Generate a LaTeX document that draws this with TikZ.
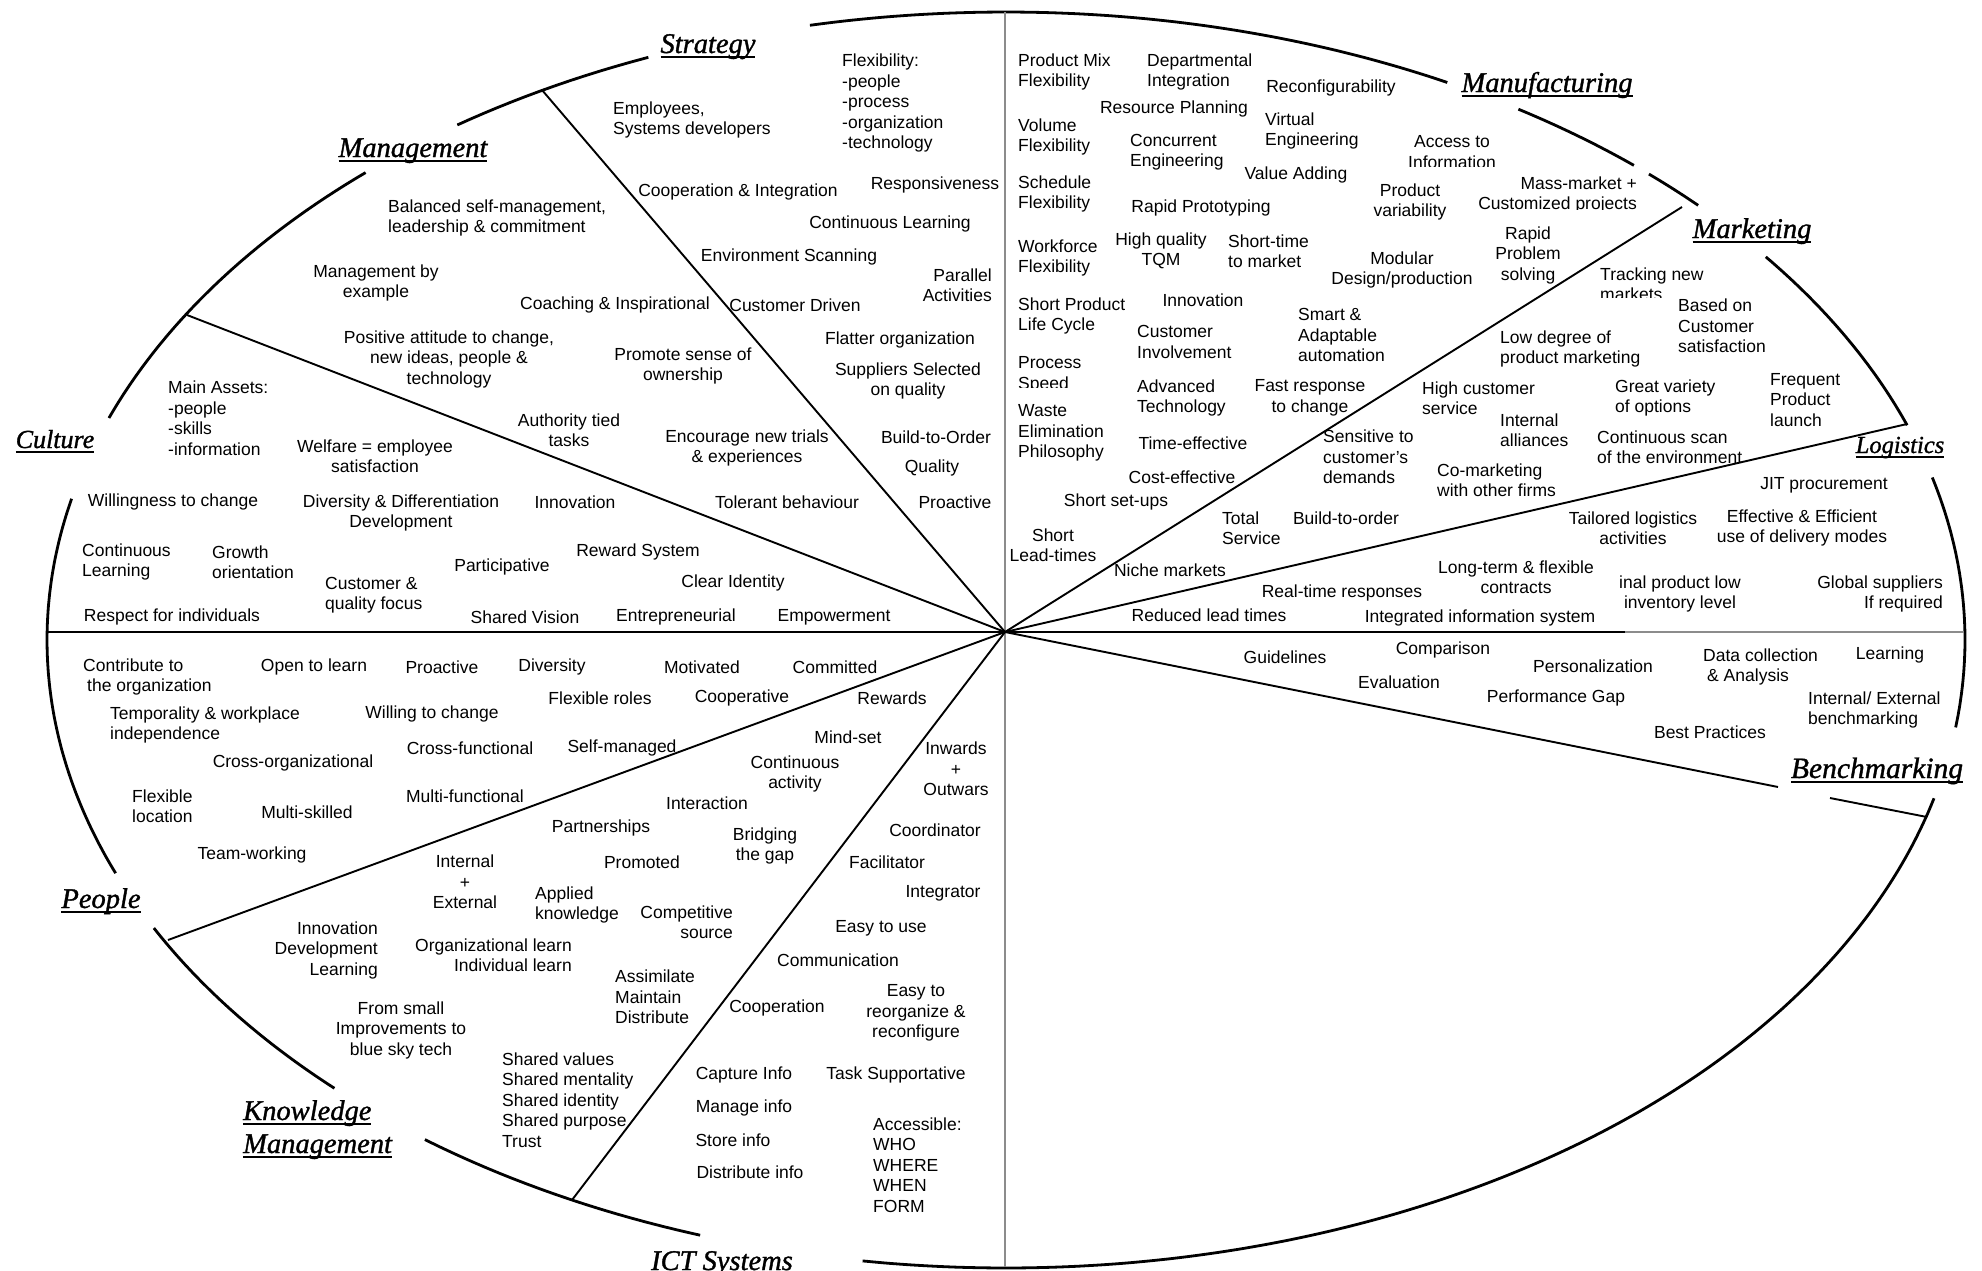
\documentclass[tikz,border=0pt]{standalone}
\usepackage{fontspec}
\setmainfont{Liberation Sans}
\newfontfamily\headserif{Liberation Serif}[ItalicFeatures={FakeBold=1.2}]
% underlined heading with a thick rule
\newcommand\ulhead[1]{\setbox0=\hbox{#1}\rlap{\rule[-5pt]{\wd0}{1.6pt}}\box0}

\begin{document}
\begin{tikzpicture}[x=1pt,y=-1pt,
  txt/.style={inner sep=0pt, align=center, font=\fontsize{17.5}{20.5}\selectfont},
  lt/.style={txt, align=left, anchor=west},
  rt/.style={txt, align=right, anchor=east},
  head/.style={inner sep=0pt, anchor=base, font=\fontsize{28.5}{32}\selectfont\headserif\itshape},
  rim/.style={line width=2.8pt},
  spoke/.style={line width=1.9pt},
  axisgray/.style={line width=2.4pt, draw=black!45}]

\useasboundingbox (0,0) rectangle (1982,1270);

% ---------- outer ellipse, broken where the area titles sit ----------
\foreach \a/\b in {-8/15, 20/37.6, 43.8/47.9, 49.1/57.7, 62.6/101.8, 111.9/124.9,
                   131.9/159.3, 167/201.8, 207.3/225.55, 232.7/251.4, 261.4/345.4}
  \draw[rim] plot[domain=\a:\b, samples=60, smooth] ({1006+959*cos(\x)},{640-628*sin(\x)});

% ---------- spokes ----------
\coordinate (O) at (1005,632);
\coordinate (eStr) at (542,90);
\coordinate (eMan) at (187,315);
\coordinate (eW) at (48,632);
\coordinate (ePeo) at (168,940);
\coordinate (eICT) at (572,1200);
\coordinate (eN) at (1005,12);
\coordinate (eS) at (1005,1267);
\coordinate (eMkt) at (1682,207);
\coordinate (eLog) at (1907,424);
\coordinate (eEg) at (1625,632);
\coordinate (eE) at (1964,632);
\coordinate (eBen) at (1778,787);
\coordinate (eBenA) at (1830,798);
\coordinate (eBenB) at (1927,817);

\draw[axisgray] (eN) -- (eS);
\draw[spoke] (O) -- (eStr);
\draw[spoke] (O) -- (eMan);
\draw[spoke] (O) -- (eW);
\draw[spoke] (O) -- (ePeo);
\draw[spoke] (O) -- (eICT);
\draw[spoke] (O) -- (eMkt);
\draw[spoke] (O) -- (eLog);
\draw[spoke] (O) -- (eEg);
\draw[axisgray] (eEg) -- (eE);
\draw[spoke] (O) -- (eBen);
\draw[spoke] (eBenA) -- (eBenB);

% ---------- area titles ----------
\node[head] (hStrategy) at (708,53) {\ulhead{Strategy}};
\node[head] (hManagement) at (413,157) {\ulhead{Management}};
\node[head, font=\fontsize{26}{30}\selectfont\headserif\itshape] (hCulture) at (55,448) {\ulhead{Culture}};
\node[head] (hPeople) at (101,908) {\ulhead{People}};
\node[head, anchor=base west] (hKnow) at (243,1120) {\ulhead{Knowledge}};
\node[head, anchor=base west] (hKnowMan) at (243,1153) {\ulhead{Management}};
\node[head] (hICT) at (722,1270) {ICT Systems};
\node[head] (hManuf) at (1547,92) {\ulhead{Manufacturing}};
\node[head] (hMarket) at (1752,238) {\ulhead{Marketing}};
\node[head, font=\fontsize{24.5}{28}\selectfont\headserif\itshape] (hLogist) at (1900,453) {\ulhead{Logistics}};
\node[head, font=\fontsize{29.5}{33}\selectfont\headserif\itshape] (hBench) at (1877,778) {\ulhead{Benchmarking}};

% ---------- Strategy ----------
\node[lt] (sEmp) at (613,120) {Employees,\\Systems developers};
\node[lt] (sFlex) at (842,103) {Flexibility:\\-people\\-process\\-organization\\-technology};
\node[txt] (sCoop) at (738,192) {Cooperation \& Integration};
\node[txt] (sResp) at (935,185) {Responsiveness};
\node[txt] (sContL) at (890,224) {Continuous Learning};
\node[txt] (sEnv) at (789,257) {Environment Scanning};
\node[rt] (sPar) at (992,285) {Parallel\\Activities};
\node[txt] (sCoach) at (615,305) {Coaching \& Inspirational};
\node[txt] (sCust) at (795,305) {Customer Driven};
\node[txt] (sFlat) at (900,340) {Flatter organization};
\node[txt] (sSupp) at (908,381) {Suppliers Selected\\on quality};
\node[txt] (sProm) at (683,366) {Promote sense of\\ownership};
\node[txt] (sAuth) at (569,430) {Authority tied\\tasks};
\node[txt] (sEnc) at (747,448) {Encourage new trials\\\& experiences};
\node[txt] (sBto) at (936,437) {Build-to-Order};
\node[txt] (sQual) at (932,468) {Quality};
\node[txt] (sTol) at (787,502) {Tolerant behaviour};
\node[txt] (sPro) at (955,502) {Proactive};

% ---------- Management ----------
\node[lt] (mBal) at (388,218) {Balanced self-management,\\leadership \& commitment};
\node[txt] (mEx) at (376,283) {Management by\\example};
\node[txt] (mPos) at (449,359) {Positive attitude to change,\\new ideas, people \&\\technology};

% ---------- Culture ----------
\node[lt] (cAss) at (168,418) {Main Assets:\\-people\\-skills\\-information};
\node[txt] (cWel) at (375,456) {Welfare = employee\\satisfaction};
\node[txt] (cWill) at (173,502) {Willingness to change};
\node[txt] (cDiv) at (401,513) {Diversity \& Differentiation\\Development};
\node[txt] (cInn) at (575,502) {Innovation};
\node[lt] (cCont) at (82,562) {Continuous\\Learning};
\node[lt] (cGrow) at (212,562) {Growth\\orientation};
\node[lt] (cCq) at (325,595) {Customer \&\\quality focus};
\node[txt] (cPart) at (502,567) {Participative};
\node[txt] (cRew) at (638,552) {Reward System};
\node[txt] (cClear) at (733,583) {Clear Identity};
\node[txt] (cResp) at (172,617) {Respect for individuals};
\node[txt] (cShV) at (525,617) {Shared Vision};
\node[txt] (cEnt) at (676,617) {Entrepreneurial};
\node[txt] (cEmp) at (834,617) {Empowerment};

% ---------- People ----------
\node[lt] (pCon) at (83,677) {Contribute to\\\hspace{4pt}the organization};
\node[txt] (pOpen) at (314,667) {Open to learn};
\node[txt] (pPro) at (442,667) {Proactive};
\node[txt] (pDiv) at (552,667) {Diversity};
\node[txt] (pMot) at (702,667) {Motivated};
\node[txt] (pCom) at (835,667) {Committed};
\node[lt] (pTem) at (110,725) {Temporality \& workplace\\independence};
\node[txt] (pWil) at (432,714) {Willing to change};
\node[txt] (pFlr) at (600,698) {Flexible roles};
\node[txt] (pCoo) at (742,698) {Cooperative};
\node[txt] (pRew) at (892,698) {Rewards};
\node[txt] (pCf) at (470,748) {Cross-functional};
\node[txt] (pSm) at (622,748) {Self-managed};
\node[txt] (pCo) at (293,763) {Cross-organizational};
\node[lt] (pFl) at (132,806) {Flexible\\location};
\node[txt] (pMs) at (307,812) {Multi-skilled};
\node[txt] (pMf) at (465,796) {Multi-functional};
\node[txt] (pTw) at (252,855) {Team-working};

% ---------- Knowledge Management ----------
\node[txt] (kMind) at (848,737) {Mind-set};
\node[txt] (kInw) at (956,769) {Inwards\\+\\Outwars};
\node[txt] (kCont) at (795,774) {Continuous\\activity};
\node[txt] (kInt) at (707,803) {Interaction};
\node[txt] (kPar) at (601,828) {Partnerships};
\node[txt] (kBri) at (765,846) {Bridging\\the gap};
\node[txt] (kCoord) at (935,830) {Coordinator};
\node[txt] (kIE) at (465,882) {Internal\\+\\External};
\node[txt] (kProm) at (642,862) {Promoted};
\node[txt] (kFac) at (887,862) {Facilitator};
\node[lt] (kApp) at (535,905) {Applied\\knowledge};
\node[rt] (kComp) at (733,922) {Competitive\\source};
\node[txt] (kIntg) at (943,893) {Integrator};
\node[rt] (kInnov) at (378,950) {Innovation\\Development\\Learning};
\node[rt] (kOrg) at (572,955) {Organizational learn\\Individual learn};
\node[txt] (kEasy) at (881,928) {Easy to use};
\node[txt] (kComm) at (838,960) {Communication};
\node[lt] (kAss) at (615,997) {Assimilate\\Maintain\\Distribute};
\node[txt] (kCoop) at (777,1008) {Cooperation};
\node[txt] (kReorg) at (916,1013) {Easy to\\reorganize \&\\reconfigure};
\node[txt] (kSmall) at (401,1030) {From small\\Improvements to\\blue sky tech};
\node[lt] (kShared) at (502,1100) {Shared values\\Shared mentality\\Shared identity\\Shared purpose\\Trust};

% ---------- ICT Systems ----------
\node[txt] (iCap) at (744,1075) {Capture Info};
\node[txt] (iTask) at (896,1075) {Task Supportative};
\node[txt] (iMan) at (744,1108) {Manage info};
\node[txt] (iStore) at (733,1140) {Store info};
\node[txt] (iDist) at (750,1172) {Distribute info};
\node[lt] (iAcc) at (873,1165) {Accessible:\\WHO\\WHERE\\WHEN\\FORM};

% ---------- Manufacturing ----------
\node[lt] (fMix) at (1018,72) {Product Mix\\Flexibility};
\node[lt] (fDept) at (1147,72) {Departmental\\Integration};
\node[txt] (fReconf) at (1331,88) {Reconfigurability};
\node[txt] (fRes) at (1174,109) {Resource Planning};
\node[lt] (fVol) at (1018,137) {Volume\\Flexibility};
\node[lt] (fVirt) at (1265,131) {Virtual\\Engineering};
\node[lt] (fConc) at (1130,152) {Concurrent\\Engineering};
\begin{scope}
  \clip (1395,120) rectangle (1510,166);
  \node[txt] (fAccess) at (1452,152) {Access to\\Information};
\end{scope}
\node[txt] (fValue) at (1296,175) {Value Adding};
\node[lt] (fSched) at (1018,194) {Schedule\\Flexibility};
\node[txt] (fRapid) at (1201,208) {Rapid Prototyping};
\node[txt] (fVar) at (1410,202) {Product\\variability};
\begin{scope}
  \clip (1460,165) rectangle (1650,209);
  \node[rt] (fMass) at (1637,195) {Mass-market +\\Customized projects};
\end{scope}
\node[lt] (fWork) at (1018,258) {Workforce\\Flexibility};
\node[txt] (fHigh) at (1161,251) {High quality\\TQM};
\node[lt] (fShort) at (1228,251) {Short-time\\to market};
\node[txt] (fMod) at (1402,270) {Modular\\Design/production};
\node[txt] (fProb) at (1528,255) {Rapid\\Problem\\solving};
\node[lt] (fLife) at (1018,316) {Short Product\\Life Cycle};
\node[txt] (fInn) at (1203,300) {Innovation};
\node[lt] (fCust) at (1137,342) {Customer\\Involvement};
\node[lt] (fSmart) at (1298,335) {Smart \&\\Adaptable\\automation};
\begin{scope}
  \clip (1005,345) rectangle (1110,387);
  \node[lt] (fProc) at (1018,375) {Process\\Speed};
\end{scope}
\node[lt] (fAdv) at (1137,398) {Advanced\\Technology};
\node[txt] (fFast) at (1310,398) {Fast response\\to change};
\node[lt] (fWaste) at (1018,433) {Waste\\Elimination\\Philosophy};
\node[txt] (fTime) at (1193,443) {Time-effective};
\node[txt] (fCost) at (1182,477) {Cost-effective};
\node[txt] (fSetup) at (1116,502) {Short set-ups};
\node[txt] (fLead) at (1053,545) {Short\\Lead-times};
\node[txt] (fNiche) at (1170,570) {Niche markets};
\node[lt] (fTotal) at (1222,528) {Total\\Service};
\node[txt] (fBto) at (1346,518) {Build-to-order};

% ---------- Marketing ----------
\node[lt] (kHigh) at (1422,398) {High customer\\service};
\begin{scope}
  \clip (1590,255) rectangle (1760,297);
  \node[lt] (kTrack) at (1600,284) {Tracking new\\markets};
\end{scope}
\node[lt] (kBased) at (1678,326) {Based on\\Customer\\satisfaction};
\node[lt] (kLow) at (1500,349) {Low degree of\\product marketing};
\node[lt] (kGreat) at (1615,398) {Great variety\\of options};
\node[lt] (kFreq) at (1770,400) {Frequent\\Product\\launch};
\node[lt] (kAll) at (1500,430) {Internal\\alliances};
\node[lt] (kScan) at (1597,447) {Continuous scan\\of the environment};
\node[lt] (kSens) at (1323,457) {Sensitive to\\customer's\\demands};
\node[lt] (kComk) at (1437,480) {Co-marketing\\with other firms};

% ---------- Logistics ----------
\node[txt] (lJit) at (1824,485) {JIT procurement};
\node[txt] (lTail) at (1633,528) {Tailored logistics\\activities};
\node[txt] (lEff) at (1802,528) {Effective \& Efficient\\use of delivery modes};
\node[txt] (lLong) at (1516,577) {Long-term \& flexible\\contracts};
\node[txt] (lReal) at (1342,593) {Real-time responses};
\node[txt] (lRed) at (1209,615) {Reduced lead times};
\node[txt] (lInt) at (1480,618) {Integrated information system};
\node[txt] (lInal) at (1680,594) {inal product low\\inventory level};
\node[rt] (lGlob) at (1943,594) {Global suppliers\\If required};

% ---------- Benchmarking ----------
\node[txt] (bGuide) at (1285,657) {Guidelines};
\node[txt] (bComp) at (1443,650) {Comparison};
\node[txt] (bEval) at (1399,682) {Evaluation};
\node[txt] (bPers) at (1593,666) {Personalization};
\node[txt] (bGap) at (1556,698) {Performance Gap};
\node[lt] (bData) at (1703,667) {Data collection\\\hspace{4pt}\& Analysis};
\node[txt] (bLearn) at (1890,655) {Learning};
\node[lt] (bIntExt) at (1808,710) {Internal/ External\\benchmarking};
\node[txt] (bBest) at (1710,732) {Best Practices};

\end{tikzpicture}
\end{document}
